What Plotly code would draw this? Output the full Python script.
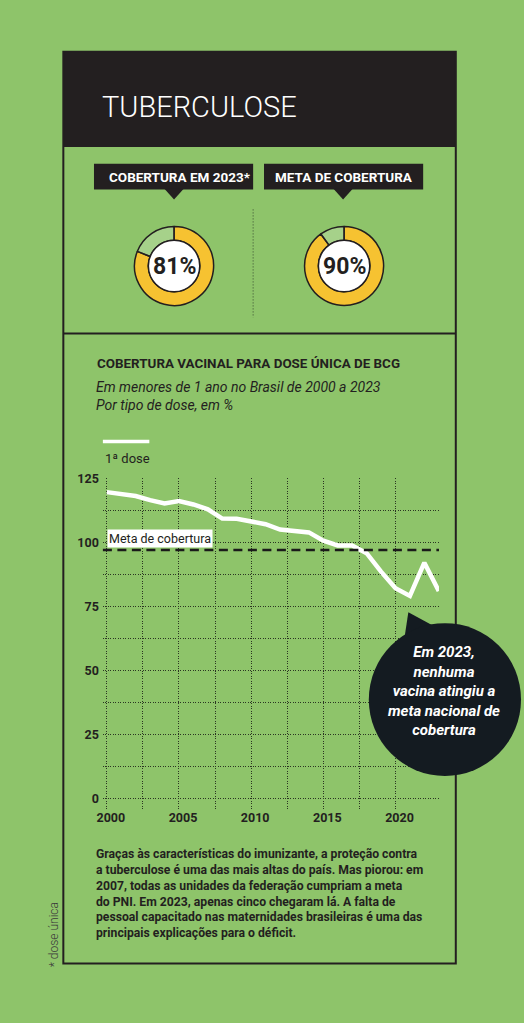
import plotly.graph_objects as go

# ---- data ----
YEARS = list(range(2000, 2024))
DOSE1 = [119.6, 119.0, 118.1, 116.5, 115.2, 116.1, 114.8, 112.9, 109.3, 109.2,
         108.0, 107.1, 105.0, 104.6, 103.9, 100.7, 98.8, 98.8, 95.8, 88.6,
         82.1, 79.1, 92.1, 81.0]
META_LINE = 97          # dashed "Meta de cobertura" line as drawn
COVERAGE_2023 = 81      # donut 1
TARGET = 90             # donut 2

Y_GRID = [0, 12.5, 25, 37.5, 50, 62.5, 75, 87.5, 100, 112.5, 125]
Y_TEXT = ["0", "", "25", "", "50", "", "75", "", "100", "", "125"]
X_GRID = [2000, 2002.5, 2005, 2007.5, 2010, 2012.5, 2015, 2017.5, 2020]
X_TEXT = ["2000", "", "2005", "", "2010", "", "2015", "", "2020"]

W, H = 524, 1023
BG = "#8ec46a"
INK = "#231f20"
YELLOW = "#f6c231"
FONT = "Roboto, sans-serif"


def fx(p):
    return p / W


def fy(p):
    return 1 - p / H


fig = go.Figure()

# line chart
fig.add_trace(go.Scatter(
    x=YEARS, y=DOSE1, mode="lines",
    line=dict(color="white", width=4.5),
    cliponaxis=False, hoverinfo="skip", showlegend=False,
))

# donuts
for val, cx in [(COVERAGE_2023, 170), (TARGET, 342)]:
    fig.add_trace(go.Pie(
        values=[val, 100 - val], sort=False, direction="clockwise", rotation=0,
        hole=0.65, textinfo="none", hoverinfo="skip", showlegend=False,
        marker=dict(colors=[YELLOW, "rgba(255,255,255,0.22)"],
                    line=dict(color=INK, width=1.5)),
        domain=dict(x=[fx(cx - 40), fx(cx + 40)], y=[fy(300), fy(220)]),
    ))

shapes = []
# outer frame and header
shapes.append(dict(type="rect", xref="paper", yref="paper",
                   x0=fx(58), x1=fx(455), y0=fy(44), y1=fy(140),
                   fillcolor=INK, line=dict(width=0)))
shapes.append(dict(type="rect", xref="paper", yref="paper",
                   x0=fx(58), x1=fx(455), y0=fy(44), y1=fy(963),
                   line=dict(color=INK, width=2)))
shapes.append(dict(type="line", xref="paper", yref="paper",
                   x0=fx(58), x1=fx(455), y0=fy(328), y1=fy(328),
                   line=dict(color=INK, width=2)))
shapes.append(dict(type="line", xref="paper", yref="paper",
                   x0=fx(250), x1=fx(250), y0=fy(203), y1=fy(312),
                   line=dict(color="#3a4a30", width=1, dash="1px,2px")))

# label boxes with pointers
for x0, x1, cx in [(89, 250, 170), (261, 422, 341)]:
    shapes.append(dict(type="rect", xref="paper", yref="paper",
                       x0=fx(x0), x1=fx(x1), y0=fy(157), y1=fy(183),
                       fillcolor=INK, line=dict(width=0)))
    shapes.append(dict(type="path", xref="paper", yref="paper",
                       path=f"M {fx(cx - 10)},{fy(182)} L {fx(cx + 10)},{fy(182)} "
                            f"L {fx(cx)},{fy(193)} Z",
                       fillcolor=INK, line=dict(width=0)))

# white centres of donuts
for cx in [170, 342]:
    shapes.append(dict(type="circle", xref="paper", yref="paper",
                       x0=fx(cx - 26), x1=fx(cx + 26), y0=fy(286), y1=fy(234),
                       fillcolor="white", line=dict(color=INK, width=1.5)))

# meta line
shapes.append(dict(type="line", xref="x domain", yref="y",
                   x0=0, x1=1, y0=META_LINE, y1=META_LINE,
                   line=dict(color="#1a1a1a", width=2.5, dash="9px,5.5px")))

# legend sample
shapes.append(dict(type="line", xref="paper", yref="paper",
                   x0=fx(98), x1=fx(145), y0=fy(437), y1=fy(437),
                   line=dict(color="white", width=3.5)))

# callout bubble
shapes.append(dict(type="path", xref="paper", yref="paper",
                   path=f"M {fx(407)},{fy(609)} L {fx(400)},{fy(655)} "
                        f"L {fx(442)},{fy(628)} Z",
                   fillcolor="#141b21", line=dict(width=0)))
shapes.append(dict(type="circle", xref="paper", yref="paper",
                   x0=fx(367), x1=fx(521), y0=fy(774), y1=fy(620),
                   fillcolor="#141b21", line=dict(width=0)))

ann = []


def note(text, x, y, size, color=INK, weight="normal", style="normal",
         xanchor="left", yanchor="middle", align="left", **kw):
    ann.append(dict(text=text, x=x, y=y, xref="paper", yref="paper",
                    xanchor=xanchor, yanchor=yanchor, align=align,
                    showarrow=False,
                    font=dict(family=FONT, size=size, color=color,
                              weight=weight, style=style), **kw))


note("TUBERCULOSE", fx(95), fy(100), 29, color="white", weight=300)
note("COBERTURA EM 2023*", fx(176), fy(170), 13.5, color="white", weight="bold",
     xanchor="center", align="center")
note("META DE COBERTURA", fx(342), fy(170), 13.5, color="white", weight="bold",
     xanchor="center", align="center")
note(f"{COVERAGE_2023}%", fx(170), fy(261), 23, weight="bold",
     xanchor="center", align="center")
note(f"{TARGET}%", fx(342), fy(261), 23, weight="bold",
     xanchor="center", align="center")
note("COBERTURA VACINAL PARA DOSE ÚNICA DE BCG", fx(90), fy(358), 13.4,
     weight="bold")
note("Em menores de 1 ano no Brasil de 2000 a 2023<br>Por tipo de dose, em %",
     fx(89), fy(391), 14, style="italic")
note("1ª dose", fx(98), fy(454), 13)
note("Em 2023,<br>nenhuma<br>vacina atingiu a<br>meta nacional de<br>cobertura",
     fx(443), fy(688), 15, color="white", weight="bold", style="italic",
     xanchor="center", align="center")
note("Graças às características do imunizante, a proteção contra<br>"
     "a tuberculose é uma das mais altas do país. Mas piorou: em<br>"
     "2007, todas as unidades da federação cumpriam a meta<br>"
     "do PNI. Em 2023, apenas cinco chegaram lá. A falta de<br>"
     "pessoal capacitado nas maternidades brasileiras é uma das<br>"
     "principais explicações para o déficit.",
     fx(89), fy(892), 12.2, weight="bold")
note("* dose única", fx(48), fy(934), 12, color="#3b3b3b",
     weight=300, xanchor="center", align="center", textangle=-90)

# label sitting on the meta line
ann.append(dict(text="Meta de cobertura", x=2000, y=META_LINE, xref="x", yref="y",
                xanchor="left", yanchor="bottom", yshift=2, showarrow=False,
                bgcolor="white", borderpad=1, align="left",
                font=dict(family=FONT, size=12.5, color=INK)))

axis_font = dict(family=FONT, size=12.5, color=INK, weight="bold")
grid = dict(showgrid=True, gridcolor="#2b3522", gridwidth=1, griddash="1px,1.5px",
            zeroline=False, showline=False, ticks="", fixedrange=True)

fig.update_layout(
    width=W, height=H,
    margin=dict(l=0, r=0, t=0, b=0),
    paper_bgcolor=BG, plot_bgcolor="rgba(0,0,0,0)",
    xaxis=dict(domain=[fx(98), fx(438)], range=[1999.726, 2023.014],
               tickvals=X_GRID, ticktext=X_TEXT, tickfont=axis_font,
               ticklabelshift=4, **grid),
    yaxis=dict(domain=[fy(807), fy(474)], range=[-3.87, 125],
               tickvals=Y_GRID, ticktext=Y_TEXT, tickfont=axis_font,
               ticklabelstandoff=3, **grid),
    shapes=shapes,
    annotations=ann,
)

# page margin off so the figure sits at the window corner
fig.write_html("out.html", config={"displayModeBar": False},
               post_script="document.body.style.margin='0';")
